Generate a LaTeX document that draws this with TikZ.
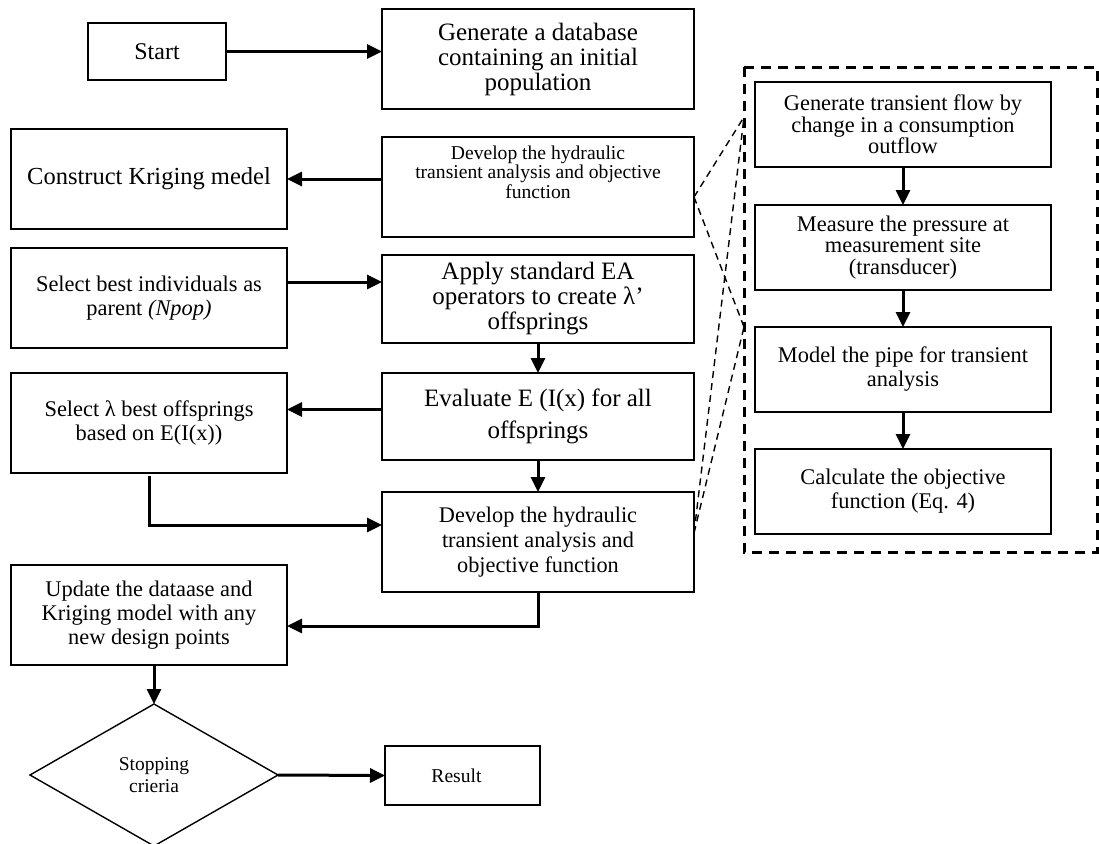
\documentclass[tikz,border=0pt]{standalone}
\usepackage{fontspec}
\setmainfont{Liberation Serif}
\usetikzlibrary{shapes.geometric, arrows.meta}
\tikzstyle{box} = [draw, rectangle, line width=1.4pt, inner sep=2pt, outer sep=0pt, align=center, font=\fontsize{22.4}{24}\selectfont]
\tikzstyle{arrow} = [line width=3pt, -{Triangle[length=15pt,width=14pt]}]
\tikzstyle{zoomline} = [line width=1.4pt, dash pattern=on 7pt off 5pt]
\tikzstyle{zoombox} = [line width=3pt, dash pattern=on 10pt off 7pt]

\begin{document}
\begin{tikzpicture}[x=1pt,y=-1pt]
\useasboundingbox (0,0) rectangle (1099,843);
% main loop
\node[box, minimum width=138pt, minimum height=57pt, font=\fontsize{24}{26}\selectfont] (start) at (157,51.5) {Start};
\node[box, minimum width=312pt, minimum height=100pt, font=\fontsize{25}{25}\selectfont] (gen) at (538,59) {Generate a database\\ containing an initial\\ population};
\node[box, minimum width=276pt, minimum height=100pt, font=\fontsize{24.5}{26}\selectfont] (krig) at (149,179) {Construct Kriging medel};
\node[box, minimum width=312pt, minimum height=100pt] (dev1) at (538,187) {};
\node[align=center, font=\fontsize{19.6}{19.4}\selectfont] (dev1txt) at (538,172) {Develop the hydraulic\\ transient analysis and objective\\ function};
\node[box, minimum width=276pt, minimum height=100pt] (best) at (149,298) {Select best individuals as\\ parent \textit{(Npop)}};
\node[box, minimum width=312pt, minimum height=88pt, font=\fontsize{25}{25}\selectfont] (apply) at (538,299) {Apply standard EA\\ operators to create λ'\\ offsprings};
\node[box, minimum width=312pt, minimum height=87pt, font=\fontsize{25}{32}\selectfont] (eval) at (538,416.5) {Evaluate E (I(x) for all\\ offsprings};
\node[box, minimum width=276pt, minimum height=100pt] (sel) at (149,423) {Select λ best offsprings\\ based on E(I(x))};
\node[box, minimum width=312pt, minimum height=100pt, font=\fontsize{22.3}{25}\selectfont] (dev2) at (538,542) {Develop the hydraulic\\ transient analysis and\\ objective function};
\node[box, minimum width=276pt, minimum height=100pt] (upd) at (149,615) {Update the dataase and\\ Kriging model with any\\ new design points};
\node[draw, diamond, line width=1.4pt, inner sep=0pt, outer sep=0pt, minimum width=248pt, minimum height=142pt, align=center, font=\fontsize{19.5}{21.5}\selectfont] (dia) at (154,775) {Stopping\\ crieria};
\node[box, minimum width=155pt, minimum height=59pt, font=\fontsize{19.6}{21}\selectfont] (res) at (462.5,775.5) {\hspace*{-12pt}Result};

% transient analysis detail
\draw[zoombox] (744,67) rectangle (1097,552);
\node[box, minimum width=296pt, minimum height=85pt, font=\fontsize{22.4}{21.5}\selectfont] (gt) at (903,124.5) {Generate transient flow by\\ change in a consumption\\ outflow};
\node[box, minimum width=296pt, minimum height=85pt, font=\fontsize{22.4}{21.5}\selectfont] (ms) at (903,247.5) {Measure the pressure at\\ measurement site\\ (transducer)};
\node[box, minimum width=296pt, minimum height=85pt, font=\fontsize{22.4}{24}\selectfont] (md) at (903,369.5) {Model the pipe for transient\\ analysis};
\node[box, minimum width=296pt, minimum height=85pt, font=\fontsize{22.4}{24}\selectfont] (calc) at (903,491.5) {Calculate the objective\\ function (Eq. 4)};
\coordinate (zt) at (744,117);
\coordinate (zb) at (744,327);

\draw[zoomline] ([yshift=-10pt]dev1.east) -- (zt);
\draw[zoomline] ([yshift=-10pt]dev1.east) -- (zb);
\draw[zoomline] ([yshift=9pt]dev2.east) -- (zt);
\draw[zoomline] ([yshift=9pt]dev2.east) -- (zb);

% arrows
\draw[arrow] (start.east) -- (start.east -| gen.west);
\draw[arrow] (dev1.west |- krig.east) -- (krig.east);
\draw[arrow] ([yshift=16pt]best.east) -- ([yshift=16pt]best.east -| apply.west);
\draw[arrow] (apply.south) -- (eval.north);
\draw[arrow] ([yshift=7pt]eval.west) -- ([yshift=7pt]eval.west -| sel.east);
\draw[arrow] (eval.south) -- (dev2.north);
\draw[arrow] ([yshift=-3pt]sel.south) |- ([yshift=17pt]dev2.west);
\draw[arrow] (dev2.south) |- ([yshift=-11pt]upd.east);
\draw[arrow] (upd.south -| dia.north) -- (dia.north);
\draw[arrow] (dia.east) -- (res.west);
\draw[arrow] (gt) -- (ms);
\draw[arrow] (ms) -- (md);
\draw[arrow] (md) -- (calc);
\end{tikzpicture}
\end{document}
